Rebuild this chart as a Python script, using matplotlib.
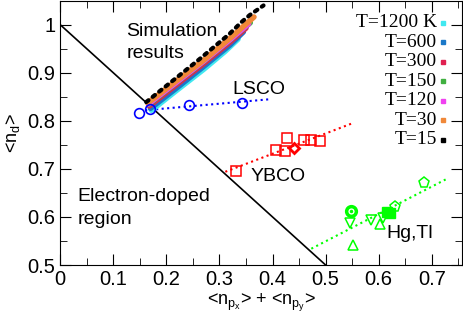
import numpy as np
import matplotlib.pyplot as plt

plt.rcParams['font.family'] = 'Liberation Sans'
plt.rcParams['mathtext.fontset'] = 'custom'
plt.rcParams['mathtext.rm'] = 'Liberation Sans'
plt.rcParams['mathtext.it'] = 'Liberation Sans'
plt.rcParams['mathtext.default'] = 'regular'

# boundary n_d + n_p = 1
bound_x = [0.0, 0.5]
bound_y = [1.0, 0.5]

# simulation results (one band per temperature)
sim_labels = ['T=1200 K', 'T=600', 'T=300', 'T=150', 'T=120', 'T=30', 'T=15']
sim_colors = ['#40e8f0', '#1a78c8', '#e02050', '#40b040', '#f040f0', '#f08838', '#000000']
sim_x = [
    [0.172, 0.220, 0.270, 0.310, 0.335],
    [0.170, 0.220, 0.270, 0.320, 0.345],
    [0.168, 0.220, 0.270, 0.320, 0.350],
    [0.167, 0.220, 0.270, 0.320, 0.358],
    [0.166, 0.220, 0.270, 0.320, 0.355],
    [0.165, 0.220, 0.270, 0.320, 0.365],
    [0.162, 0.190, 0.225, 0.262, 0.290, 0.319, 0.341, 0.357, 0.383],
]
sim_y = [
    [0.822, 0.864, 0.907, 0.944, 0.970],
    [0.826, 0.869, 0.913, 0.958, 0.985],
    [0.831, 0.876, 0.919, 0.964, 0.993],
    [0.834, 0.880, 0.923, 0.968, 1.004],
    [0.835, 0.881, 0.924, 0.969, 1.002],
    [0.837, 0.884, 0.926, 0.972, 1.016],
    [0.839, 0.864, 0.895, 0.928, 0.954, 0.981, 1.005, 1.020, 1.040],
]

# LSCO
lsco_x = [0.149, 0.169, 0.243, 0.342]
lsco_y = [0.816, 0.825, 0.832, 0.838]
lsco_fit_x = [0.160, 0.396]
lsco_fit_y = [0.822, 0.845]

# YBCO
ybco_x = [0.331, 0.427, 0.407, 0.423, 0.460, 0.473, 0.489]
ybco_y = [0.696, 0.765, 0.739, 0.738, 0.761, 0.760, 0.758]
ybco_dia_x = [0.440]
ybco_dia_y = [0.744]
ybco_fit_x = [0.311, 0.553]
ybco_fit_y = [0.694, 0.796]

# Hg, Tl
hg_circ_x, hg_circ_y = [0.547], [0.613]
hg_dn_x, hg_dn_y = [0.545, 0.585, 0.608], [0.587, 0.594, 0.598]
hg_up_x, hg_up_y = [0.552, 0.602], [0.542, 0.586]
hg_sq_x, hg_sq_y = [0.616, 0.621], [0.611, 0.608]
hg_pent_x, hg_pent_y = [0.630, 0.685], [0.620, 0.671]
hg_fit_x = [0.473, 0.726]
hg_fit_y = [0.534, 0.678]

fig = plt.figure(figsize=(4.63, 3.24), dpi=100)
ax = fig.add_axes([0.130, 0.182, 0.868, 0.816])

ax.plot(bound_x, bound_y, '-', color='black', lw=1.2)

for i in range(len(sim_x)):
    if sim_colors[i] == '#000000':
        ax.plot(sim_x[i], sim_y[i], color='black', lw=3.0,
                linestyle=(0, (0.7, 1.3)), dash_capstyle='round', zorder=4)
    else:
        ax.plot(sim_x[i], sim_y[i], color=sim_colors[i], lw=4.0,
                solid_capstyle='round', zorder=3)

ax.plot(lsco_fit_x, lsco_fit_y, ':', color='blue', lw=1.5)
ax.plot(lsco_x, lsco_y, 'o', mfc='none', mec='blue', ms=7, mew=1.2, zorder=5)

ax.plot(ybco_fit_x, ybco_fit_y, ':', color='red', lw=1.5)
ax.plot(ybco_x, ybco_y, 's', mfc='none', mec='red', ms=7.5, mew=1.1)
ax.plot(ybco_dia_x, ybco_dia_y, 'D', mfc='none', mec='red', ms=5, mew=2)

g = '#00ff00'
ax.plot(hg_fit_x, hg_fit_y, ':', color=g, lw=1.5)
ax.plot(hg_circ_x, hg_circ_y, 'o', mfc='none', mec=g, ms=7, mew=2.5)
ax.plot(hg_circ_x, hg_circ_y, '.', color=g, ms=3)
ax.plot(hg_dn_x, hg_dn_y, 'v', mfc='none', mec=g, ms=7, mew=1.1)
ax.plot(hg_up_x, hg_up_y, '^', mfc='none', mec=g, ms=7, mew=1.1)
ax.plot(hg_sq_x, hg_sq_y, 's', mfc=g, mec=g, ms=7)
ax.plot(hg_pent_x, hg_pent_y, 'p', mfc='none', mec=g, ms=8, mew=1.1)

# legend in gnuplot style
for i, lab in enumerate(sim_labels):
    yy = 1 - (22.3 + 19.5 * i) / 265.0
    ax.text(0.938, yy, lab, transform=ax.transAxes, ha='right', va='center',
            family='Liberation Serif', fontsize=14)
    ax.plot([0.953], [yy], 's', color=sim_colors[i], ms=3,
            transform=ax.transAxes, clip_on=False)

fs = 14
ax.text(0.125, 0.977, 'Simulation', fontsize=fs, va='baseline')
ax.text(0.125, 0.930, 'results', fontsize=fs, va='baseline')
ax.text(0.375, 0.855, 'LSCO', fontsize=fs, va='baseline', ha='center')
ax.text(0.358, 0.675, 'YBCO', fontsize=fs, va='baseline')
ax.text(0.615, 0.557, 'Hg,Tl', fontsize=fs, va='baseline')
ax.text(0.033, 0.633, 'Electron-doped', fontsize=fs, va='baseline')
ax.text(0.033, 0.586, 'region', fontsize=fs, va='baseline')

ax.set_xlim(0, 0.757)
ax.set_ylim(0.5, 1.05)
ax.set_xticks(np.arange(0, 0.71, 0.1))
ax.set_xticks(np.arange(0.05, 0.76, 0.1), minor=True)
ax.set_yticks(np.arange(0.5, 1.01, 0.1))
ax.set_yticks(np.arange(0.55, 1.05, 0.1), minor=True)
ax.set_xticklabels(['0', '0.1', '0.2', '0.3', '0.4', '0.5', '0.6', '0.7'])
ax.set_yticklabels(['0.5', '0.6', '0.7', '0.8', '0.9', '1'])
ax.tick_params(which='both', direction='in', top=True, right=True, labelsize=14.5)
ax.tick_params(which='major', length=8)
ax.tick_params(which='minor', length=5)

ax.set_xlabel('<n$_{p_x}$> + <n$_{p_y}$>', fontsize=13, labelpad=2)
ax.set_ylabel('<n$_d$>', fontsize=13, labelpad=4)

plt.savefig('out.png', dpi=100)
